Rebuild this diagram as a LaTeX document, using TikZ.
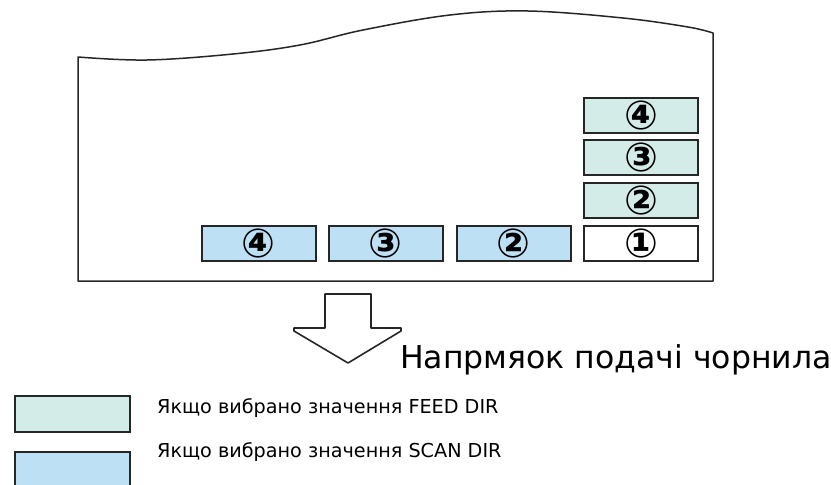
\documentclass[tikz,border=0pt]{standalone}
\usepackage{fontspec}
\setmainfont{DejaVu Sans}
\begin{document}
\begin{tikzpicture}[x=1pt,y=-1pt,
  outline/.style={draw=black!85,line width=1.5pt,line join=round},
  cell/.style={draw=black!85,line width=2pt,minimum width=114pt,minimum height=35pt,inner sep=0pt,
    font=\bfseries\fontsize{40}{40}\selectfont},
  feedcell/.style={cell,fill=feedcol},
  scancell/.style={cell,fill=scancol},
  plaincell/.style={cell,fill=white},
  legendbox/.style={draw=black!85,line width=2pt,minimum width=115pt,minimum height=36pt,inner sep=0pt},
  legendtext/.style={anchor=base west,inner sep=0pt,font=\fontsize{19.2}{20}\selectfont}]
\definecolor{feedcol}{HTML}{D4ECE8}
\definecolor{scancol}{HTML}{BDE0F4}
\useasboundingbox (0,0) rectangle (831,485);

% paper sheet with wavy leading edge
\draw[outline] (78,281) -- plot[smooth,tension=0.6] coordinates {(78,57) (147,60) (233,54) (300,45) (363,30) (450,15) (528,11) (623,18) (688,27) (713,33)}
  -- (713,281) -- cycle;

% printed passes
\node[plaincell] (p1) at (641,243) {①};
\node[feedcell]  (f2) at (641,200.3) {②};
\node[feedcell]  (f3) at (641,157.7) {③};
\node[feedcell]  (f4) at (641,115) {④};
\node[scancell]  (s2) at (513.5,243) {②};
\node[scancell]  (s3) at (385.5,243) {③};
\node[scancell]  (s4) at (258.5,243) {④};

% feed direction arrow
\draw[outline,line width=1.6pt,fill=white] (325,294) -- (371,294) -- (371,328) -- (401,328) -- (401,331)
  -- (348,363) -- (294,331) -- (294,328) -- (325,328) -- cycle;
\node[anchor=base west,inner sep=0pt,font=\fontsize{31.5}{32}\selectfont] (dir) at (400,368) {Напрмяок подачі чорнила};

% legend
\node[legendbox,fill=feedcol] (lf) at (72,413.5) {};
\node[legendbox,fill=scancol] (ls) at (72,470) {};
\node[legendtext] (tf) at (157,413) {Якщо вибрано значення FEED DIR};
\node[legendtext] (ts) at (157,457) {Якщо вибрано значення SCAN DIR};
\end{tikzpicture}
\end{document}
